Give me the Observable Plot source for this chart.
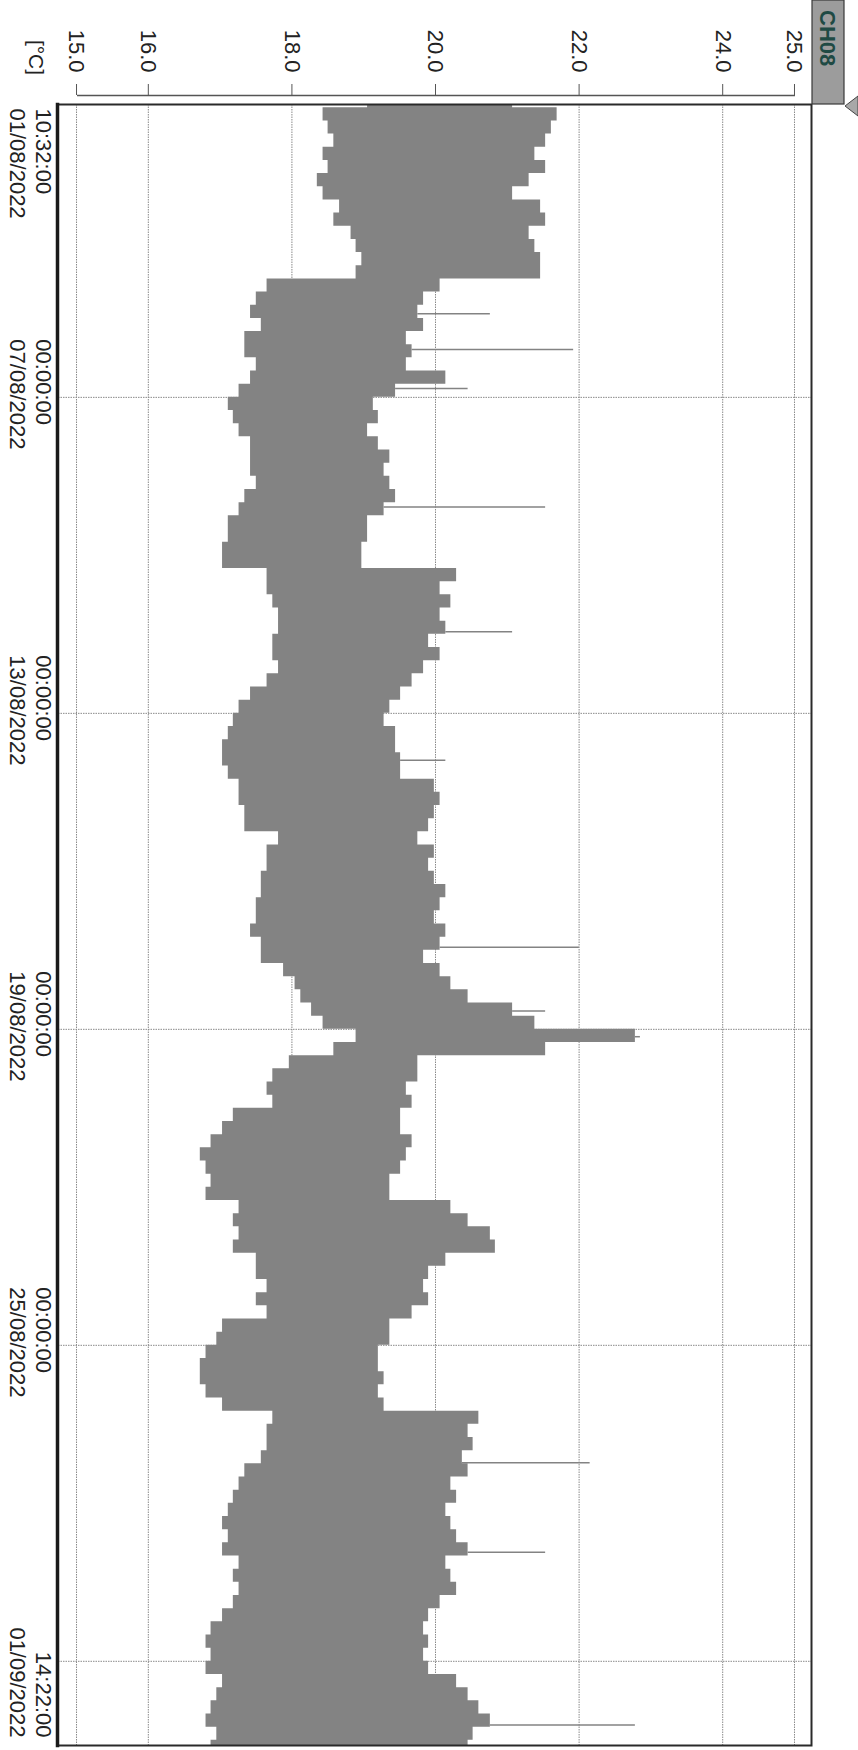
<!DOCTYPE html>
<html>
<head>
<meta charset="utf-8">
<script src="https://cdn.jsdelivr.net/npm/d3@7"></script>
<script src="https://cdn.jsdelivr.net/npm/@observablehq/plot@0.6"></script>
<style>
  html, body { margin: 0; padding: 0; background: #fff; }
  #wrap { position: relative; width: 858px; height: 1750px; overflow: hidden; background: #fff; }
  #chart { position: absolute; left: 0; top: 0; width: 1750px; height: 858px;
           transform-origin: 0 0; transform: translate(858px, 0) rotate(90deg); }
</style>
</head>
<body>
<div id="wrap"><div id="chart"></div></div>
<script>
// ---------- data ----------
const channel = "CH08";
const unitLabel = "[°C]";
const tStart = "2022-08-01T10:32:00Z";
const tEnd = "2022-09-01T14:22:00Z";
const startLabel = "10:32:00\n01/08/2022";
const endLabel = "14:22:00\n01/09/2022";
const tempTicks = [15, 16, 18, 20, 22, 24, 25];
const gridDates = ["2022-08-07", "2022-08-13", "2022-08-19", "2022-08-25", "2022-08-31"];
const labelDates = ["2022-08-07", "2022-08-13", "2022-08-19", "2022-08-25"];
const labelTexts = ["00:00:00\n07/08/2022", "00:00:00\n13/08/2022", "00:00:00\n19/08/2022", "00:00:00\n25/08/2022"];

// temperature envelope per 6-hour window (first window starts 01/08 06:00): lowest / highest reading
const windowStart = "2022-08-01T06:00:00Z";
const windowHours = 6;
const bandLow = [
  19.04, 18.42, 18.49, 18.57, 18.42, 18.49, 18.34, 18.42, 18.65, 18.57, 18.81, 18.88, 18.96, 18.88,
  17.64, 17.49, 17.41, 17.56, 17.33, 17.33, 17.49, 17.41, 17.25, 17.10, 17.17, 17.25, 17.41, 17.41,
  17.41, 17.49, 17.33, 17.25, 17.10, 17.10, 17.02, 17.02, 17.64, 17.64, 17.72, 17.80, 17.80, 17.72,
  17.72, 17.80, 17.64, 17.41, 17.25, 17.17, 17.10, 17.02, 17.02, 17.10, 17.25, 17.25, 17.33, 17.33,
  17.80, 17.64, 17.64, 17.56, 17.56, 17.49, 17.49, 17.41, 17.56, 17.56, 17.87, 18.03, 18.11, 18.26,
  18.42, 18.88, 18.57, 17.95, 17.72, 17.64, 17.72, 17.17, 17.02, 16.86, 16.71, 16.79, 16.86, 16.79,
  17.25, 17.17, 17.25, 17.17, 17.49, 17.49, 17.64, 17.49, 17.64, 17.02, 16.94, 16.79, 16.71, 16.71,
  16.79, 17.02, 17.72, 17.64, 17.64, 17.56, 17.33, 17.25, 17.17, 17.10, 17.02, 17.10, 17.02, 17.25,
  17.17, 17.25, 17.17, 17.02, 16.86, 16.79, 16.86, 16.79, 17.02, 16.94, 16.86, 16.79, 16.94, 16.86];
const bandHigh = [
  21.06, 21.68, 21.60, 21.52, 21.37, 21.52, 21.29, 21.06, 21.45, 21.52, 21.29, 21.37, 21.45, 21.45,
  20.05, 19.82, 19.74, 19.82, 19.58, 19.66, 19.58, 20.13, 19.43, 19.12, 19.19, 19.04, 19.19, 19.35,
  19.27, 19.35, 19.43, 19.27, 19.04, 19.04, 18.96, 18.96, 20.28, 20.05, 20.20, 20.05, 20.13, 19.89,
  20.05, 19.82, 19.66, 19.50, 19.35, 19.27, 19.43, 19.43, 19.50, 19.50, 19.97, 20.05, 19.97, 19.89,
  19.74, 19.97, 19.89, 19.97, 20.13, 20.05, 19.97, 20.13, 20.05, 19.82, 20.05, 20.20, 20.44, 21.06,
  21.37, 22.77, 21.52, 19.74, 19.74, 19.58, 19.66, 19.50, 19.50, 19.66, 19.58, 19.50, 19.35, 19.35,
  20.20, 20.44, 20.75, 20.82, 20.13, 19.89, 19.82, 19.89, 19.66, 19.35, 19.35, 19.19, 19.19, 19.27,
  19.19, 19.27, 20.59, 20.44, 20.51, 20.36, 20.44, 20.20, 20.28, 20.13, 20.20, 20.28, 20.44, 20.13,
  20.20, 20.28, 20.05, 19.89, 19.82, 19.89, 19.82, 19.89, 20.28, 20.44, 20.59, 20.75, 20.51, 20.44];

// isolated short excursions beyond the band: fractional day of August, band edge, extreme reached
const spikeDay  = [5.41, 6.09, 6.83, 9.08, 11.45, 13.89, 17.44, 18.65, 19.14, 27.23, 28.93, 32.21];
const spikeFrom = [19.74, 19.66, 19.43, 19.27, 20.13, 19.50, 20.05, 21.06, 22.77, 20.36, 20.44, 20.75];
const spikeTo   = [20.75, 21.91, 20.44, 21.52, 21.06, 20.13, 21.99, 21.52, 22.84, 22.14, 21.52, 22.77];

// ---------- build ----------
const dayToDate = d => new Date(Date.UTC(2022, 7, 1) + (d - 1) * 864e5);
const start = new Date(tStart), end = new Date(tEnd);
const w0 = new Date(windowStart).getTime();
const band = bandLow.map((lo, i) => {
  const t = new Date(w0 + i * windowHours * 36e5);
  return {t: t < start ? start : t, lo, hi: bandHigh[i]};
});
band.push({t: end, lo: bandLow[bandLow.length - 1], hi: bandHigh[bandHigh.length - 1]});
const spikes = spikeDay.map((d, i) => ({t: dayToDate(d), from: spikeFrom[i], to: spikeTo[i]}));
const grid = gridDates.map(s => new Date(s + "T00:00:00Z"));
const labels = labelDates.map((s, i) => ({t: new Date(s + "T00:00:00Z"), text: labelTexts[i]}));

const font = "'Liberation Sans', Arial, Helvetica, sans-serif";
const ink = "#222";
const dataGray = "#838383";
const gridStyle = {stroke: "#8a8a8a", strokeOpacity: 1, strokeWidth: 1, strokeDasharray: "1.5,1"};

const chart = Plot.plot({
  width: 1750,
  height: 858,
  marginLeft: 104,
  marginRight: 5,
  marginTop: 46,
  marginBottom: 58,
  style: {fontFamily: font, fontSize: "22px", color: ink, background: "#fff"},
  x: {type: "utc", domain: [start, end], axis: null},
  y: {domain: [14.735, 25.237], axis: null},
  marks: [
    Plot.gridY(tempTicks, gridStyle),
    Plot.gridX(grid, gridStyle),
    Plot.areaY(band, {x: "t", y1: "lo", y2: "hi", curve: "step-after", fill: dataGray}),
    Plot.ruleX(spikes, {x: "t", y1: "from", y2: "to", stroke: dataGray, strokeWidth: 1.5}),
    Plot.frame({stroke: "#2a2a2a", strokeWidth: 2}),
    Plot.frame({anchor: "bottom", stroke: "#1a1a1a", strokeWidth: 3.5}),
    // temperature axis (offset from the frame, with its own line)
    Plot.ruleX([start], {y1: tempTicks[0], y2: tempTicks[tempTicks.length - 1], dx: -9, stroke: "#555", strokeWidth: 1.5}),
    Plot.axisY(tempTicks, {anchor: "left", tickSize: 11, tickPadding: 12, dx: -9, stroke: "#555",
      tickFormat: d3.format(".1f"), fontSize: 22, fill: ink}),
    // time axis labels
    Plot.text([{t: start, text: startLabel}], {x: "t", text: "text", frameAnchor: "bottom", textAnchor: "start",
      lineAnchor: "top", dx: 4, dy: 3, lineHeight: 1.18, fontSize: 22, fill: ink}),
    Plot.text(labels, {x: "t", text: "text", frameAnchor: "bottom", textAnchor: "start",
      lineAnchor: "top", dx: -58, dy: 3, lineHeight: 1.18, fontSize: 22, fill: ink}),
    Plot.text([{t: end, text: endLabel}], {x: "t", text: "text", frameAnchor: "bottom", textAnchor: "end",
      lineAnchor: "top", dx: -8, dy: 3, lineHeight: 1.18, fontSize: 22, fill: ink}),
    Plot.text([unitLabel], {frameAnchor: "bottom-left", textAnchor: "middle", lineAnchor: "middle",
      dx: -47, dy: 22, fontSize: 21, fill: ink})
  ]
});

// channel tab and marker (decoration, placed relative to the plot frame)
const svg = d3.select(chart);
const ml = 104, mt = 46;
const tab = svg.append("g");
tab.append("rect").attr("x", 0).attr("y", mt - 32).attr("width", ml).attr("height", 32)
  .attr("fill", "#9c9c9c").attr("stroke", "#3a3a3a").attr("stroke-width", 1.2);
tab.append("text").attr("x", 10).attr("y", mt - 16).attr("dy", "0.36em")
  .attr("text-anchor", "start")
  .attr("font-family", font).attr("font-size", 22).attr("font-weight", "bold")
  .attr("fill", "#1f4a44").text(channel);
tab.append("path").attr("d", `M${ml - 8},0 L${ml + 2},${mt - 33} L${ml + 12},0 Z`)
  .attr("fill", "#a8a8a8").attr("stroke", "#444").attr("stroke-width", 1);

document.getElementById("chart").appendChild(chart);
</script>
</body>
</html>
